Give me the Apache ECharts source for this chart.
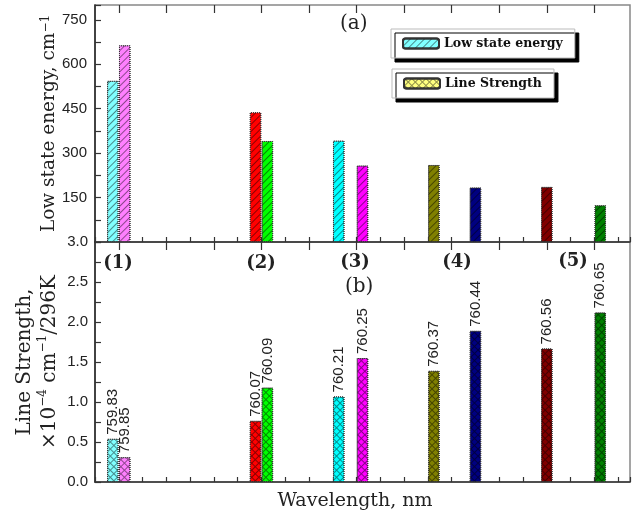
<!DOCTYPE html>
<html>
<head>
<meta charset="utf-8">
<script src="https://cdn.jsdelivr.net/npm/echarts@6/dist/echarts.min.js"></script>
<style>
  html, body { margin: 0; padding: 0; background: #fff; }
  #chart { width: 643px; height: 517px; }
</style>
</head>
<body>
<div id="chart"></div>
<script>
// line positions (nm) and values
const wavelengths = [759.83, 759.85, 760.07, 760.09, 760.21, 760.25, 760.37, 760.44, 760.56, 760.65];
const lowStateEnergy = [544, 664, 438, 341, 342, 258, 260, 184, 186, 124];
const lineStrength = [0.54, 0.31, 0.765, 1.18, 1.07, 1.55, 1.39, 1.89, 1.67, 2.12];
const barColors = ['#80ffff', '#ff80ff', '#ff0000', '#00ff00', '#00ffff', '#ff00ff', '#808000', '#000080', '#800000', '#008000'];
const groupNames = ['(1)', '(2)', '(3)', '(4)', '(5)'];
const groupLabelPos = [[118, 263], [261, 263], [355, 262], [457, 262], [573, 261]];
const xMajorTicks = [759.84, 759.92, 760.00, 760.08, 760.16, 760.24, 760.32, 760.40, 760.48, 760.56, 760.64];

const sansFont = 'Liberation Sans';
const serifFont = 'DejaVu Serif';

// hatch patterns
const hatchDecal = {
  symbol: 'rect', symbolSize: 1, color: 'rgba(0,0,0,0.45)',
  dashArrayX: [1, 0], dashArrayY: [1, 4], rotation: -Math.PI / 4
};
const crossDecal = {
  symbol: 'rect', symbolSize: 1, color: 'rgba(0,0,0,0.45)',
  dashArrayX: [[1, 0], [1, 4], [1, 4], [1, 4], [1, 4]], dashArrayY: [1, 0], rotation: Math.PI / 4
};

function barData(values) {
  return values.map((v, i) => ({ value: [wavelengths[i], v], itemStyle: { color: barColors[i] } }));
}

const xBase = { type: 'value', min: 759.80, max: 760.70, splitLine: { show: false }, axisLabel: { show: false } };
function minorX(gridIndex) {
  return Object.assign({}, xBase, {
    gridIndex: gridIndex, interval: 0.04,
    axisLine: { lineStyle: { color: '#333', width: 1.5 } },
    axisTick: { inside: true, length: 5, lineStyle: { color: '#333', width: 1.2 } }
  });
}
function majorX(gridIndex) {
  return Object.assign({}, xBase, {
    gridIndex: gridIndex,
    axisLine: { show: false },
    axisTick: { inside: true, length: 8, customValues: xMajorTicks, lineStyle: { color: '#333', width: 1.2 } }
  });
}

const legendBase = {
  selectedMode: false, itemWidth: 36, itemHeight: 10, padding: [8, 12, 8, 11],
  backgroundColor: '#fff', borderColor: '#bbb', borderWidth: 1,
  shadowColor: '#000', shadowOffsetX: 4, shadowOffsetY: 4, shadowBlur: 0,
  textStyle: { fontFamily: serifFont, fontWeight: 'bold', fontSize: 12.5, color: '#111' }
};

const option = {
  animation: false,
  backgroundColor: '#fff',
  grid: [
    { left: 95, right: 13, top: 5, height: 237, outerBoundsMode: 'none', show: true, borderColor: '#888', borderWidth: 1.5 },
    { left: 95, right: 13, top: 242, height: 240, outerBoundsMode: 'none', show: true, borderColor: '#888', borderWidth: 1.5 }
  ],
  xAxis: [
    minorX(0), majorX(0),
    Object.assign(minorX(1), {
      name: 'Wavelength, nm', nameLocation: 'middle', nameGap: 10,
      nameTextStyle: { fontFamily: serifFont, fontSize: 19, color: '#222', padding: [0, 15, 0, 0] }
    }),
    majorX(1)
  ],
  yAxis: [
    {
      type: 'value', gridIndex: 0, min: 0, max: 800, interval: 75,
      splitLine: { show: false },
      axisLine: { show: true, lineStyle: { color: '#222', width: 1.5 } },
      axisTick: { inside: true, length: 6, lineStyle: { color: '#333', width: 1.2 } },
      axisLabel: {
        margin: 8, fontFamily: sansFont, fontSize: 15, color: '#222',
        formatter: v => (v > 0 && v % 150 === 0) ? String(v) : ''
      },
      name: '{a|Low state energy, cm}{s|−1}', nameLocation: 'middle', nameGap: 36, nameMoveOverlap: false,
      nameTextStyle: {
        rich: {
          a: { fontFamily: serifFont, fontSize: 18.5, color: '#222' },
          s: { fontFamily: serifFont, fontSize: 12, color: '#222', verticalAlign: 'top', padding: [0, 0, 6, 0] }
        }
      }
    },
    {
      type: 'value', gridIndex: 1, min: 0, max: 3, interval: 0.25,
      splitLine: { show: false },
      axisLine: { show: true, lineStyle: { color: '#222', width: 1.5 } },
      axisTick: { inside: true, length: 6, lineStyle: { color: '#333', width: 1.2 } },
      axisLabel: {
        margin: 7, fontFamily: sansFont, fontSize: 15, color: '#222',
        formatter: v => (Math.abs(v * 2 - Math.round(v * 2)) < 1e-9) ? v.toFixed(1) : ''
      },
      name: '{a|Line Strength,}\n{a|×10}{s|−4}{a| cm}{s|−1}{a|/296K}', nameLocation: 'middle', nameGap: 33, nameMoveOverlap: false,
      nameTextStyle: {
        lineHeight: 25,
        rich: {
          a: { fontFamily: serifFont, fontSize: 20, color: '#222', lineHeight: 25 },
          s: { fontFamily: serifFont, fontSize: 12, color: '#222', verticalAlign: 'top', padding: [0, 0, 6, 0] }
        }
      }
    }
  ],
  legend: [
    Object.assign({}, legendBase, { data: ['Low state energy'], left: 391, top: 29 }),
    Object.assign({}, legendBase, { data: ['Line Strength'], left: 392, top: 69 })
  ],
  series: [
    {
      name: 'Low state energy', type: 'bar', xAxisIndex: 0, yAxisIndex: 0,
      barWidth: 11.5,
      itemStyle: { color: '#80ffff', borderColor: '#333', borderWidth: 1, borderType: 'dotted', decal: hatchDecal },
      data: barData(lowStateEnergy)
    },
    {
      name: 'Line Strength', type: 'bar', xAxisIndex: 2, yAxisIndex: 1,
      barWidth: 11.5,
      itemStyle: { color: '#ffff80', borderColor: '#333', borderWidth: 1, borderType: 'dotted', decal: crossDecal },
      label: {
        show: true, position: 'top', rotate: 90, align: 'left', verticalAlign: 'middle', distance: 4,
        fontFamily: sansFont, fontSize: 15, color: '#222',
        formatter: p => p.value[0].toFixed(2)
      },
      data: barData(lineStrength)
    }
  ],
  graphic: [
    { type: 'text', left: 340, top: 14, style: { text: '(a)', font: '20px "DejaVu Serif"', fill: '#222' } },
    { type: 'text', left: 345, top: 277, style: { text: '(b)', font: '20px "DejaVu Serif"', fill: '#222' } }
  ].concat(groupNames.map((t, i) => ({
    type: 'text', x: groupLabelPos[i][0], y: groupLabelPos[i][1],
    style: { text: t, font: 'bold 18px "DejaVu Serif"', fill: '#222', align: 'center', verticalAlign: 'middle' }
  })))
};

const myChart = echarts.init(document.getElementById('chart'));
myChart.setOption(option);
window.addEventListener('resize', () => {
  myChart.resize();
});
</script>
</body>
</html>
